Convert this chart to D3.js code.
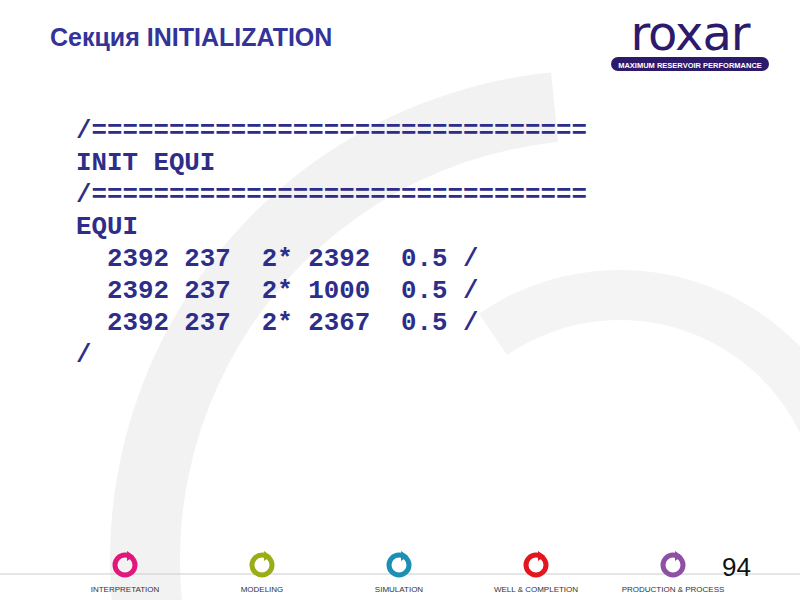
<!DOCTYPE html>
<html><head><meta charset="utf-8">
<script src="https://cdn.jsdelivr.net/npm/d3@7"></script>
<style>body{margin:0;background:#fff}</style>
</head><body><div id="slide"></div>
<script>
// slide content
const title = "Секция INITIALIZATION";
const codeLines = [
  "/================================",
  "INIT EQUI",
  "/================================",
  "EQUI",
  "  2392 237  2* 2392  0.5 /",
  "  2392 237  2* 1000  0.5 /",
  "  2392 237  2* 2367  0.5 /",
  "/"
];
const stages = ["INTERPRETATION", "MODELING", "SIMULATION", "WELL & COMPLETION", "PRODUCTION & PROCESS"];
const stageColors = ["#e2177b", "#9aac16", "#1b8fb4", "#e3151f", "#8e4fa5"];
const pageNumber = "94";

const svg = d3.select("#slide").append("svg")
    .attr("width", 800).attr("height", 600);

// background swoosh
const arc = d3.arc();
svg.append("path")
    .attr("transform", "translate(600,560)")
    .attr("d", arc({innerRadius: 420, outerRadius: 490, startAngle: -1.95, endAngle: -0.1}))
    .attr("fill", "#f2f2f2");
svg.append("path")
    .attr("transform", "translate(620,520)")
    .attr("d", arc({innerRadius: 200, outerRadius: 250, startAngle: -0.6, endAngle: 1.4}))
    .attr("fill", "#f4f4f4");

// title
svg.append("text").attr("x", 50).attr("y", 46)
    .text(title)
    .attr("font-family", "Liberation Sans, Arial")
    .attr("font-weight", "bold").attr("font-size", 25)
    .attr("fill", "#333399");

// logo
const logo = svg.append("g");
logo.append("text").attr("x", 690).attr("y", 50).attr("text-anchor", "middle")
    .text("roxar").attr("font-family", "DejaVu Sans, Liberation Sans")
    .attr("font-size", 48).attr("fill", "#2d1a6b").attr("letter-spacing", -1);
logo.append("rect").attr("x", 611).attr("y", 57).attr("width", 158).attr("height", 14)
    .attr("rx", 7).attr("fill", "#2d1a6b");
logo.append("text").attr("x", 690).attr("y", 67.5).attr("text-anchor", "middle")
    .text("MAXIMUM RESERVOIR PERFORMANCE").attr("font-family", "Liberation Sans, Arial")
    .attr("font-weight", "bold").attr("font-size", 7.5).attr("fill", "#fff");

// code block
const y = d3.scaleLinear().domain([0, codeLines.length - 1]).range([138, 362]);
svg.selectAll("text.code").data(codeLines).join("text")
    .attr("class", "code")
    .attr("x", 76).attr("y", (d, i) => y(i))
    .attr("xml:space", "preserve").style("white-space", "pre")
    .text(d => d)
    .attr("font-family", "Courier New, Liberation Mono, monospace")
    .attr("font-weight", "bold")
    .attr("font-size", 25.8).attr("fill", "#2e2e8a");

// footer
svg.append("line").attr("x1", 0).attr("x2", 800).attr("y1", 574).attr("y2", 574)
    .attr("stroke", "#cccccc").attr("stroke-width", 1);
const x = d3.scalePoint().domain(stages).range([125, 673]);
const st = svg.selectAll("g.stage").data(stages).join("g")
    .attr("transform", d => `translate(${x(d)},0)`);
st.append("circle").attr("cy", 565).attr("r", 10)
    .attr("fill", "none").attr("stroke-width", 5)
    .attr("stroke", (d, i) => stageColors[i]);
st.append("path").attr("d", "M2,551 L9,556 L2,561 Z")
    .attr("fill", (d, i) => stageColors[i]);
st.append("text").attr("y", 592).attr("text-anchor", "middle")
    .text(d => d).attr("font-family", "Liberation Sans, Arial")
    .attr("font-size", 8).attr("fill", "#333");
svg.append("text").attr("x", 751).attr("y", 576).attr("text-anchor", "end")
    .text(pageNumber).attr("font-family", "Liberation Sans, Arial")
    .attr("font-size", 26).attr("fill", "#111");
</script></body></html>
